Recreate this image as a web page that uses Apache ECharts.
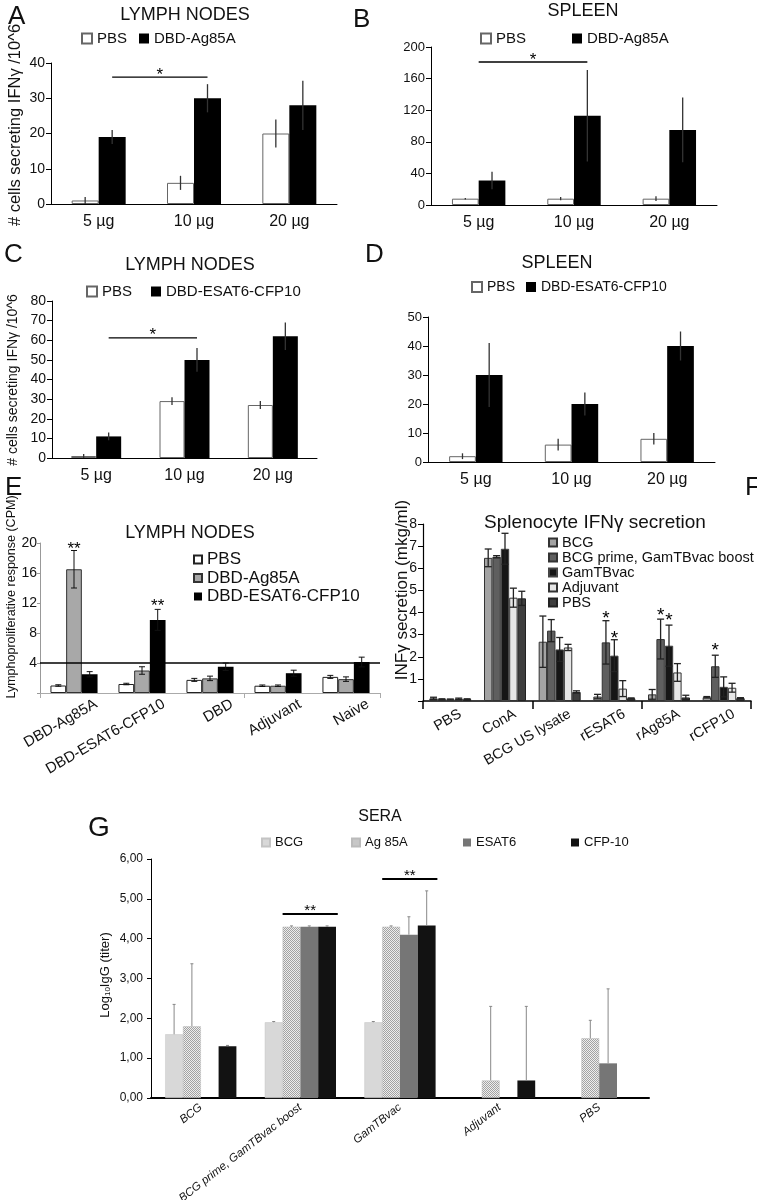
<!DOCTYPE html>
<html><head><meta charset="utf-8">
<script src="https://cdn.jsdelivr.net/npm/echarts@6/dist/echarts.min.js"></script>
<style>html,body{margin:0;padding:0;background:#fff}#c{width:757px;height:1200px}</style>
</head><body><div id="c"></div>
<script>
// ================= DATA =================
const doseCats = ['5 µg', '10 µg', '20 µg'];
// A  lymph nodes, DBD-Ag85A
const aPBS = [1, 6, 20];      const aPBSErr = [1, 2, 4];
const aDBD = [19, 30, 28];    const aDBDErr = [2, 4, 7];
const aSig = [[0, 1, 1, 1, 36]]; const aSigText = ['*'];
// B  spleen, DBD-Ag85A
const bPBS = [8, 8, 8];       const bPBSErr = [1, 2, 3];
const bDBD = [31, 113, 95];   const bDBDErr = [11, 58, 41];
const bSig = [[0, 0.5, 1, 1, 181]]; const bSigText = ['*'];
// C  lymph nodes, DBD-ESAT6-CFP10
const cPBS = [1, 29, 27];     const cPBSErr = [1, 2, 2];
const cDBD = [11, 50, 62];    const cDBDErr = [2, 6, 7];
const cSig = [[0, 1, 1, 1, 61.2]]; const cSigText = ['*'];
// D  spleen, DBD-ESAT6-CFP10
const dPBS = [2, 6, 8];       const dPBSErr = [1, 2, 2];
const dDBD = [30, 20, 40];    const dDBDErr = [11, 4, 5];
// E  lymphoproliferative response
const eCats = ['DBD-Ag85A', 'DBD-ESAT6-CFP10', 'DBD', 'Adjuvant', 'Naive'];
const ePBS = [1.0, 1.2, 1.75, 0.97, 2.15];  const ePBSErr = [0.1, 0.1, 0.2, 0.1, 0.2];
const eAg  = [16.5, 3.0, 1.95, 0.97, 1.85]; const eAgErr  = [2.5, 0.5, 0.3, 0.1, 0.3];
const eES  = [2.5, 9.75, 3.5, 2.64, 4.13];  const eESErr  = [0.35, 1.4, 0.5, 0.4, 0.65];
const eThreshold = 4;
const eStars = [[0, 1, 19.7], [1, 2, 12.0]]; const eStarText = ['**', '**'];
// F  splenocyte IFNγ secretion
const fCats = ['PBS', 'ConA', 'BCG US lysate', 'rESAT6', 'rAg85A', 'rCFP10'];
const fBCG    = [0.12, 6.47, 2.68, 0.2, 0.3, 0.17];   const fBCGErr    = [0.05, 0.4, 1.16, 0.1, 0.22, 0.03];
const fPrime  = [0.08, 6.52, 3.18, 2.65, 2.8, 1.57];  const fPrimeErr  = [0.02, 0.05, 0.5, 0.98, 0.9, 0.5];
const fGam    = [0.07, 6.88, 2.33, 2.05, 2.5, 0.64];  const fGamErr    = [0.02, 0.7, 0.54, 0.72, 0.93, 0.45];
const fAdj    = [0.1, 4.67, 2.42, 0.56, 1.29, 0.6];   const fAdjErr    = [0.03, 0.43, 0.14, 0.36, 0.4, 0.2];
const fPBS    = [0.08, 4.64, 0.41, 0.12, 0.16, 0.13]; const fPBSErr    = [0.02, 0.32, 0.05, 0.02, 0.1, 0.02];
const fStars = [[3, 1, 3.9], [3, 2, 3.0], [4, 1, 4.05], [4, 2, 3.8], [5, 1, 2.45]];
const fStarText = ['*', '*', '*', '*', '*'];
// G  sera IgG
const gCats = ['BCG', 'BCG prime, GamTBvac boost', 'GamTBvac', 'Adjuvant', 'PBS'];
const gBCG = [1.6, 1.9, 1.9, null, null];     const gBCGErr = [0.75, 0.02, 0.02, null, null];
const gAg  = [1.8, 4.3, 4.3, 0.44, 1.5];      const gAgErr  = [1.57, 0.02, 0.02, 1.86, 0.45];
const gES  = [null, 4.3, 4.1, null, 0.87];    const gESErr  = [null, 0.02, 0.45, null, 1.87];
const gCFP = [1.3, 4.3, 4.33, 0.44, null];    const gCFPErr = [0.02, 0.02, 0.87, 1.86, null];
const gSig = [[1, 0.5, 1, 3.6, 4.62], [2, 0.5, 2, 3.6, 5.5]]; const gSigText = ['**', '**'];

// ================= HELPERS =================
const F_SANS = "'Liberation Sans', Arial, Helvetica, sans-serif";
const F_NARROW = "'Liberation Sans Narrow', 'Arial Narrow', 'Liberation Sans', sans-serif";
const grids = [], xAxes = [], yAxes = [], series = [], legends = [], texts = [];

function errSeries(gi, n, bw, list, st) {
  const data = [];
  list.forEach(([s, vals, errs]) => vals.forEach((v, i) => {
    if (v != null && errs[i] != null) data.push([i, v, errs[i], s]);
  }));
  return {
    type: 'custom', xAxisIndex: gi, yAxisIndex: gi, z: 5, clip: false, silent: true, data,
    renderItem(params, api) {
      const c = api.value(0), v = api.value(1), e = api.value(2), s = api.value(3);
      const off = (s - (n - 1) / 2) * bw;
      const p = api.coord([c, v]);
      const top = api.coord([c, v + e]);
      const bot = api.coord([c, st.upOnly ? v : Math.max(v - e, 0)]);
      const x = p[0] + off;
      const ls = { stroke: st.color, lineWidth: st.width };
      const ch = [{ type: 'line', shape: { x1: x, y1: top[1], x2: x, y2: bot[1] }, style: ls }];
      if (st.cap) {
        ch.push({ type: 'line', shape: { x1: x - st.cap / 2, y1: top[1], x2: x + st.cap / 2, y2: top[1] }, style: ls });
        if (!st.upOnly) ch.push({ type: 'line', shape: { x1: x - st.cap / 2, y1: bot[1], x2: x + st.cap / 2, y2: bot[1] }, style: ls });
      }
      return { type: 'group', children: ch };
    }
  };
}
function txtStyle(text, font, align, valign, extra) {
  return Object.assign({ text, font, fill: '#111', align, verticalAlign: valign, textAlign: align, textVerticalAlign: valign }, extra || {});
}
function sigSeries(gi, n, bw, sig, labels, st) {
  return {
    type: 'custom', xAxisIndex: gi, yAxisIndex: gi, z: 6, clip: false, silent: true, data: sig,
    renderItem(params, api) {
      const p1 = api.coord([api.value(0), api.value(4)]);
      const p2 = api.coord([api.value(2), api.value(4)]);
      const x1 = p1[0] + (api.value(1) - (n - 1) / 2) * bw;
      const x2 = p2[0] + (api.value(3) - (n - 1) / 2) * bw;
      return { type: 'group', children: [
        { type: 'line', shape: { x1, y1: p1[1], x2, y2: p1[1] }, style: { stroke: '#000', lineWidth: st.lw } },
        { type: 'text', x: (x1 + x2) / 2, y: p1[1] - st.dy + 0.22 * st.fs,
          style: txtStyle(labels[params.dataIndex], st.fs + 'px ' + st.family, 'center', 'middle', { fill: '#000' }) }
      ] };
    }
  };
}
function starSeries(gi, n, bw, stars, labels, st) {
  return {
    type: 'custom', xAxisIndex: gi, yAxisIndex: gi, z: 6, clip: false, silent: true, data: stars,
    renderItem(params, api) {
      const p = api.coord([api.value(0), api.value(2)]);
      const x = p[0] + (api.value(1) - (n - 1) / 2) * bw;
      return { type: 'text', x, y: p[1] + 0.22 * st.fs,
        style: txtStyle(labels[params.dataIndex], st.fs + 'px ' + st.family, 'center', 'middle', { fill: '#000' }) };
    }
  };
}
function catLabelSeries(gi, cats, st) {
  return {
    type: 'custom', xAxisIndex: gi, yAxisIndex: gi, z: 6, clip: false, silent: true,
    data: cats.map((c, i) => [i, 0]),
    renderItem(params, api) {
      const p = api.coord([api.value(0), 0]);
      return { type: 'text', x: p[0] + st.dx, y: p[1] + st.dy, rotation: st.rot * Math.PI / 180,
        style: txtStyle(cats[params.dataIndex], st.font, 'right', 'middle', { fill: '#111' }) };
    }
  };
}
function addPanel(p) {
  const gi = grids.length;
  grids.push({ left: p.left, top: p.top, width: p.width, height: p.height, containLabel: false, outerBoundsMode: 'none' });
  xAxes.push(Object.assign({ type: 'category', gridIndex: gi, data: p.cats }, p.xAxis));
  yAxes.push(Object.assign({ type: 'value', gridIndex: gi, min: 0, max: p.max, interval: p.interval }, p.yAxis));
  const n = p.series.length;
  p.series.forEach(s => {
    series.push(Object.assign({ type: 'bar', name: s.name, xAxisIndex: gi, yAxisIndex: gi, data: s.data,
      barWidth: p.bw, barGap: '0%', itemStyle: s.itemStyle, silent: true }, s.extra || {}));
  });
  series.push(errSeries(gi, n, p.bw, p.series.map((s, k) => [k, s.data, s.err]), p.errStyle));
  return { gi, n, bw: p.bw };
}
function legendItem(name, left, top, fs, size, family, extra) {
  return Object.assign({ data: [name], left, top, padding: 0, itemWidth: size, itemHeight: size, icon: 'rect',
    selectedMode: false, textStyle: { fontSize: fs, color: '#111', fontFamily: family || F_SANS },
    formatter: nm => nm.slice(nm.indexOf(':') + 1) }, extra || {});
}
function gtext(x, y, text, font, align, rot, extra) {
  return Object.assign({ type: 'text', x, y, rotation: (rot || 0) * Math.PI / 180, silent: true,
    style: txtStyle(text, font, align || 'center', 'middle', { fill: '#111' }) }, extra || {});
}
const xDose = fs => ({ axisLine: { lineStyle: { color: '#000', width: 1 } }, axisTick: { show: false },
  axisLabel: { fontSize: fs, color: '#111', margin: 10, interval: 0 } });
const yBasic = fs => ({ axisLine: { show: true, lineStyle: { color: '#000' } },
  axisTick: { show: true, length: 5, lineStyle: { color: '#000' } },
  axisLabel: { fontSize: fs, color: '#111', margin: 6 }, splitLine: { show: false } });
const errAD = { color: '#333', width: 1.3, cap: 0 };
const pbsStyle = { color: '#fff', borderColor: '#666', borderWidth: 1 };
const blackStyle = { color: '#000' };

// checker pattern for the "Ag 85A" bars in panel G
const chk = document.createElement('canvas');
chk.width = 2; chk.height = 2;
(function () {
  const cx = chk.getContext('2d');
  cx.fillStyle = '#ededed'; cx.fillRect(0, 0, 2, 2);
  cx.fillStyle = '#a2a2a2'; cx.fillRect(0, 0, 1, 1); cx.fillRect(1, 1, 1, 1);
})();

// ================= PANELS =================
// A
let P = addPanel({ left: 51, top: 63, width: 286, height: 141, cats: doseCats, max: 40, interval: 10, bw: 27,
  series: [{ name: 'A:PBS', data: aPBS, err: aPBSErr, itemStyle: pbsStyle },
           { name: 'A:DBD-Ag85A', data: aDBD, err: aDBDErr, itemStyle: blackStyle }],
  xAxis: xDose(16), yAxis: yBasic(14), errStyle: errAD });
series.push(sigSeries(P.gi, P.n, P.bw, aSig, aSigText, { lw: 1.3, dy: 6, fs: 17, family: F_SANS }));
legends.push(legendItem('A:PBS', 81, 31, 15, 10), legendItem('A:DBD-Ag85A', 139, 31, 15, 10));
// B
P = addPanel({ left: 431, top: 47, width: 286, height: 158, cats: doseCats, max: 200, interval: 40, bw: 26.7,
  series: [{ name: 'B:PBS', data: bPBS, err: bPBSErr, itemStyle: pbsStyle },
           { name: 'B:DBD-Ag85A', data: bDBD, err: bDBDErr, itemStyle: blackStyle }],
  xAxis: xDose(16), yAxis: yBasic(13), errStyle: errAD });
series.push(sigSeries(P.gi, P.n, P.bw, bSig, bSigText, { lw: 1.3, dy: 5, fs: 17, family: F_SANS }));
legends.push(legendItem('B:PBS', 480, 31, 15, 10), legendItem('B:DBD-Ag85A', 572, 31, 15, 10));
// C
P = addPanel({ left: 52, top: 301, width: 265, height: 157, cats: doseCats, max: 80, interval: 10, bw: 25,
  series: [{ name: 'C:PBS', data: cPBS, err: cPBSErr, itemStyle: pbsStyle },
           { name: 'C:DBD-ESAT6-CFP10', data: cDBD, err: cDBDErr, itemStyle: blackStyle }],
  xAxis: xDose(16), yAxis: yBasic(14), errStyle: errAD });
series.push(sigSeries(P.gi, P.n, P.bw, cSig, cSigText, { lw: 1.3, dy: 6, fs: 17, family: F_SANS }));
legends.push(legendItem('C:PBS', 86, 284, 15, 10), legendItem('C:DBD-ESAT6-CFP10', 151, 284, 15, 10));
// D
P = addPanel({ left: 428, top: 317, width: 287, height: 145, cats: doseCats, max: 50, interval: 10, bw: 26.7,
  series: [{ name: 'D:PBS', data: dPBS, err: dPBSErr, itemStyle: pbsStyle },
           { name: 'D:DBD-ESAT6-CFP10', data: dDBD, err: dDBDErr, itemStyle: blackStyle }],
  xAxis: xDose(16), yAxis: yBasic(13), errStyle: errAD });
legends.push(legendItem('D:PBS', 471, 280, 14, 10), legendItem('D:DBD-ESAT6-CFP10', 526, 280, 14, 10));
// E
P = addPanel({ left: 40, top: 543, width: 340, height: 150, cats: eCats, max: 20, interval: 4, bw: 15.7,
  series: [{ name: 'E:PBS', data: ePBS, err: ePBSErr, itemStyle: { color: '#fff', borderColor: '#222', borderWidth: 1 } },
           { name: 'E:DBD-Ag85A', data: eAg, err: eAgErr, itemStyle: { color: '#a8a8a8', borderColor: '#333', borderWidth: 1 } },
           { name: 'E:DBD-ESAT6-CFP10', data: eES, err: eESErr, itemStyle: { color: '#000' },
             extra: { markLine: { silent: true, symbol: 'none', label: { show: false },
               lineStyle: { color: '#000', width: 1.5, type: 'solid' }, data: [{ yAxis: eThreshold }] } } }],
  xAxis: { axisLine: { lineStyle: { color: '#aaa' } }, axisTick: { show: true, length: 5, lineStyle: { color: '#aaa' } },
           axisLabel: { show: false } },
  yAxis: { axisLine: { show: true, lineStyle: { color: '#999' } }, axisTick: { show: true, length: 3, lineStyle: { color: '#999' } },
           axisLabel: { fontSize: 14, color: '#111', margin: 3, formatter: v => (v === 0 ? '' : v) }, splitLine: { show: false } },
  errStyle: { color: '#111', width: 1, cap: 6 } });
series.push(starSeries(P.gi, P.n, P.bw, eStars, eStarText, { fs: 17, family: F_SANS }));
series.push(catLabelSeries(P.gi, eCats, { dx: 22, dy: 10, rot: 30, font: '15px ' + F_SANS }));
legends.push(legendItem('E:PBS', 193, 551, 17, 8, F_SANS,
  { data: ['E:PBS', 'E:DBD-Ag85A', 'E:DBD-ESAT6-CFP10'], orient: 'vertical', itemGap: 1.5 }));
// F
P = addPanel({ left: 423, top: 524, width: 328, height: 177, cats: fCats, max: 8, interval: 1, bw: 8.4,
  series: [{ name: 'F:BCG', data: fBCG, err: fBCGErr, itemStyle: { color: '#a3a3a3', borderColor: '#333', borderWidth: 1 } },
           { name: 'F:BCG prime, GamTBvac boost', data: fPrime, err: fPrimeErr, itemStyle: { color: '#5f5f5f', borderColor: '#333', borderWidth: 1 } },
           { name: 'F:GamTBvac', data: fGam, err: fGamErr, itemStyle: { color: '#161616', borderColor: '#444', borderWidth: 1 } },
           { name: 'F:Adjuvant', data: fAdj, err: fAdjErr, itemStyle: { color: '#e6e6e6', borderColor: '#333', borderWidth: 1 } },
           { name: 'F:PBS', data: fPBS, err: fPBSErr, itemStyle: { color: '#3e3e3e', borderColor: '#222', borderWidth: 1 } }],
  xAxis: { axisLine: { lineStyle: { color: '#000', width: 1.5 } }, axisTick: { show: true, length: 8, lineStyle: { color: '#000', width: 1.5 } },
           axisLabel: { show: false } },
  yAxis: { axisLine: { show: true, lineStyle: { color: '#000', width: 1.2 } }, axisTick: { show: true, length: 5, lineStyle: { color: '#000' } },
           axisLabel: { fontSize: 14, color: '#111', margin: 6, formatter: v => (v === 0 ? '' : v) }, splitLine: { show: false } },
  errStyle: { color: '#222', width: 1.3, cap: 7 } });
series.push(starSeries(P.gi, P.n, P.bw, fStars, fStarText, { fs: 19, family: F_SANS }));
series.push(catLabelSeries(P.gi, fCats, { dx: 10, dy: 12, rot: 30, font: '14.5px ' + F_SANS }));
legends.push(legendItem('F:BCG', 548, 535, 14.5, 8, F_SANS,
  { data: ['F:BCG', 'F:BCG prime, GamTBvac boost', 'F:GamTBvac', 'F:Adjuvant', 'F:PBS'], orient: 'vertical', itemGap: 0 }));
legends[legends.length - 1].textStyle.lineHeight = 14;
// G
P = addPanel({ left: 151, top: 859, width: 498, height: 239, cats: gCats, max: 6, interval: 1, bw: 17.8,
  series: [{ name: 'G:BCG', data: gBCG, err: gBCGErr, itemStyle: { color: '#d8d8d8', borderColor: '#c4c4c4', borderWidth: 0.5 } },
           { name: 'G:Ag 85A', data: gAg, err: gAgErr, itemStyle: { color: { image: chk, repeat: 'repeat' }, borderColor: '#bbb', borderWidth: 0.5 } },
           { name: 'G:ESAT6', data: gES, err: gESErr, itemStyle: { color: '#767676' } },
           { name: 'G:CFP-10', data: gCFP, err: gCFPErr, itemStyle: { color: '#121212' } }],
  xAxis: { axisLine: { lineStyle: { color: '#000', width: 2 } }, axisTick: { show: false },
           axisLabel: { interval: 0, rotate: 38, margin: 8, fontSize: 11.5, fontStyle: 'italic', fontFamily: F_NARROW, color: '#111' } },
  yAxis: { axisLine: { show: true, lineStyle: { color: '#000' } }, axisTick: { show: true, length: 4, lineStyle: { color: '#000' } },
           axisLabel: { fontSize: 12, fontFamily: F_NARROW, color: '#111', margin: 8, formatter: v => v.toFixed(2).replace('.', ',') },
           splitLine: { show: false } },
  errStyle: { color: '#888', width: 1, cap: 3, upOnly: true } });
series.push(sigSeries(P.gi, P.n, P.bw, gSig, gSigText, { lw: 2, dy: 6, fs: 15, family: F_NARROW }));
legends.push(legendItem('G:BCG', 261, 836, 13, 8, F_NARROW), legendItem('G:Ag 85A', 351, 836, 13, 8, F_NARROW),
             legendItem('G:ESAT6', 463, 836, 13, 8, F_NARROW), legendItem('G:CFP-10', 571, 836, 13, 8, F_NARROW));

// ================= STATIC TEXT =================
const L = '26px ' + F_SANS, T = '18px ' + F_SANS;
texts.push(
  gtext(8, 17, 'A', L, 'left'), gtext(353, 20, 'B', L, 'left'), gtext(4, 255, 'C', L, 'left'),
  gtext(365, 255, 'D', L, 'left'), gtext(5, 488, 'E', L, 'left'), gtext(745, 488, 'F', L, 'left'),
  gtext(88, 828, 'G', '28px ' + F_SANS, 'left'),
  gtext(185, 15, 'LYMPH NODES', T), gtext(583, 11, 'SPLEEN', T), gtext(190, 265, 'LYMPH NODES', T),
  gtext(557, 263, 'SPLEEN', T), gtext(190, 533, 'LYMPH NODES', T),
  gtext(595, 523, 'Splenocyte IFNγ secretion', '19px ' + F_SANS), gtext(380, 817, 'SERA', '16px ' + F_NARROW),
  gtext(15, 125, '# cells secreting IFNγ /10^6', '16.5px ' + F_SANS, 'center', 90),
  gtext(13, 380, '# cells secreting IFNγ /10^6', '14px ' + F_SANS, 'center', 90),
  gtext(12, 597, 'Lymphoproliferative response (CPM)', '12.5px ' + F_SANS, 'center', 90),
  gtext(402, 590, 'INFγ secretion (mkg/ml)', '17px ' + F_SANS, 'center', 90),
  { type: 'text', x: 104, y: 975, rotation: Math.PI / 2, silent: true,
    style: { text: '{a|Log}{s|10}{a|IgG (titer)}', fill: '#111', align: 'center', verticalAlign: 'middle',
      textAlign: 'center', textVerticalAlign: 'middle',
      rich: { a: { fontSize: 13, fontFamily: F_NARROW, verticalAlign: 'bottom', lineHeight: 15 },
              s: { fontSize: 8, fontFamily: F_NARROW, verticalAlign: 'bottom', lineHeight: 15 } } } }
);

const chart = echarts.init(document.getElementById('c'), null, { renderer: 'canvas' });
chart.setOption({
  animation: false,
  textStyle: { fontFamily: F_SANS, color: '#111' },
  grid: grids, xAxis: xAxes, yAxis: yAxes, series, legend: legends,
  graphic: { elements: texts }
});
</script></body></html>
